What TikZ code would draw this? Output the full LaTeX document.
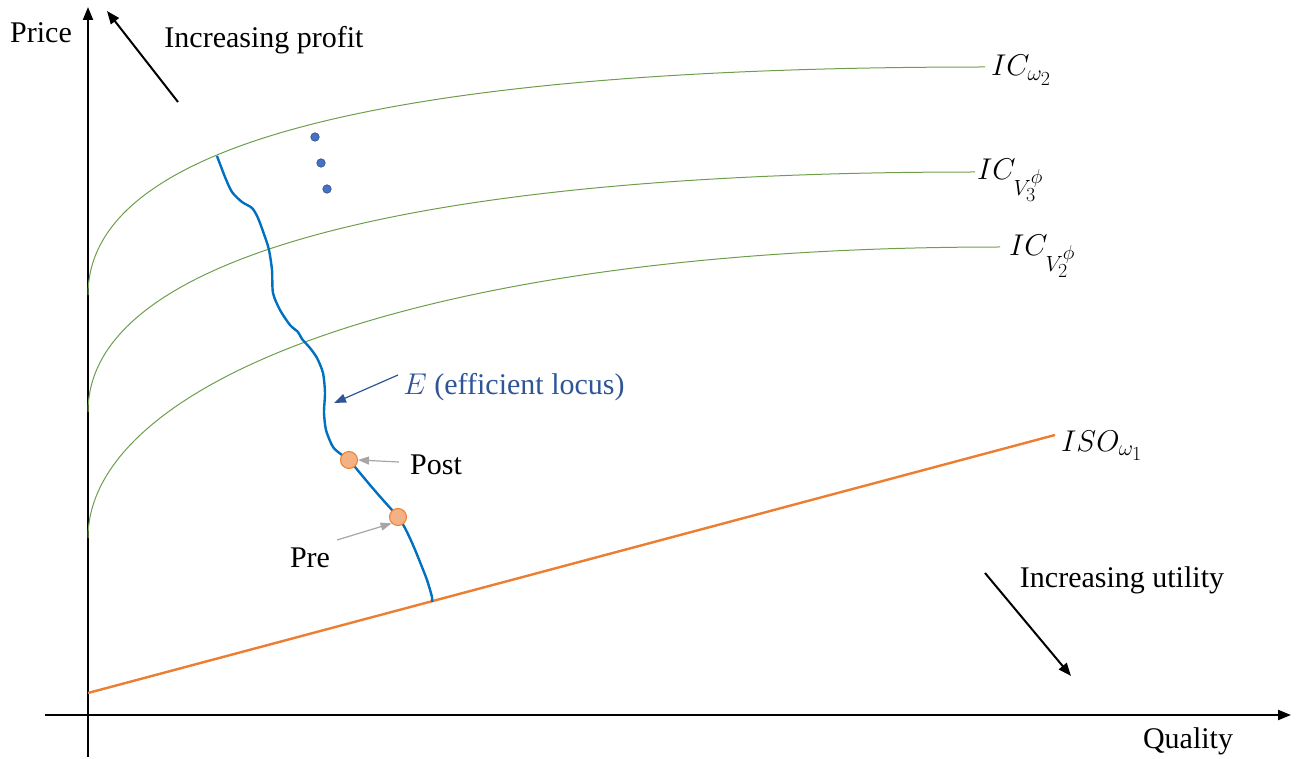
\RequirePackage{fix-cm}
\documentclass[tikz,border=0pt]{standalone}
\usepackage{fontspec}
\setmainfont{Liberation Serif}
\usetikzlibrary{arrows.meta}
\DeclareMathSizes{30}{30}{22}{20}
\definecolor{icgreen}{HTML}{6E9E4C}
\definecolor{locusblue}{HTML}{0070C0}
\definecolor{labelblue}{HTML}{2F5597}
\definecolor{isoorange}{HTML}{ED7D31}
\definecolor{dotfill}{HTML}{F4B183}
\definecolor{dotblue}{HTML}{4472C4}
\tikzset{
  axis/.style={line width=2.2pt,-{Triangle[length=13pt,width=10pt]}},
  dirarrow/.style={line width=2pt,-{Triangle[length=13pt,width=10pt]}},
  icurve/.style={icgreen,line width=1pt},
  eline/.style={locusblue,line width=2.4pt,line join=round},
  isoline/.style={isoorange,line width=2.4pt},
  txt/.style={font=\fontsize{30}{36}\selectfont,inner sep=0pt},
  mlabel/.style={font=\fontsize{30}{36}\selectfont,inner sep=0pt,anchor=base west},
  statedot/.style={circle,fill=dotfill,draw=isoorange,line width=1pt,minimum size=17pt,inner sep=0pt},
  smalldot/.style={circle,fill=dotblue,draw=dotblue!70!black,line width=0.6pt,minimum size=8.5pt,inner sep=0pt},
  grayarrow/.style={gray!70,line width=1.2pt,-{Triangle[length=11pt,width=8pt]}},
  bluearrow/.style={labelblue,line width=1.2pt,-{Triangle[length=12pt,width=9pt]}}
}
\begin{document}
\begin{tikzpicture}[x=1pt,y=-1pt]
\useasboundingbox (0,0) rectangle (1296,759);

% axes
\coordinate (ybot) at (88,757);
\coordinate (ytop) at (88,7);
\coordinate (xleft) at (45,715);
\coordinate (xright) at (1291,715);
\draw[axis] (ybot) -- (ytop);
\draw[axis] (xleft) -- (xright);
\node[txt] (price) at (41,33) {Price};
\node[txt] (quality) at (1188,741) {Quality};

% direction arrows
\node[txt] (profit) at (264,40) {Increasing profit};
\coordinate (p0) at (178,102);
\coordinate (p1) at (107,11);
\draw[dirarrow] (p0) -- (p1);
\node[txt] (utility) at (1122,580) {Increasing utility};
\coordinate (u0) at (985,573);
\coordinate (u1) at (1071,676);
\draw[dirarrow] (u0) -- (u1);

% indifference curves
\draw[icurve] (88,295) .. controls (88,140) and (400,67) .. (985,67);
\draw[icurve] (88,412) .. controls (88,257) and (410,172) .. (975,172);
\draw[icurve] (88,538) .. controls (88,383) and (420,247) .. (1000,247);
\node[mlabel] (ic2) at (991,76) {$IC_{\omega_2}$};
\node[mlabel] (ic3) at (977,180) {$IC_{V_3^{\phi}}$};
\node[mlabel] (icv2) at (1009,256) {$IC_{V_2^{\phi}}$};

% isoprofit line
\draw[isoline] (88,693) -- (1055,435);
\node[mlabel] (iso) at (1061,451) {$ISO_{\omega_1}$};

% efficient locus
\draw[eline] plot[smooth,tension=0.45] coordinates {
  (217,156) (225,177) (232,192) (242,202) (252,208) (258,218) (265,237)
  (269,250) (272,270) (273,293) (280,310) (290,325) (298,332) (302,339)
  (310,348) (317,358) (323,373) (325,393) (324,412) (326,430) (333,447)
  (342,455) (349,460) (360,473) (370,485) (383,500) (392,510) (398,517)
  (405,528) (413,545) (420,562) (427,580) (432,597) (432,602)};

% further curves indicated by dots
\node[smalldot] (d1) at (315,137) {};
\node[smalldot] (d2) at (321,163) {};
\node[smalldot] (d3) at (327,189) {};

% label of the locus
\node[txt,text=labelblue] (elabel) at (514,387) {$E$ (efficient locus)};
\coordinate (etail) at (398,375);
\coordinate (ehead) at (334,403);
\draw[bluearrow] (etail) -- (ehead);

% pre and post states
\node[statedot] (post) at (349,460) {};
\node[statedot] (pre) at (398,517) {};
\node[txt] (postl) at (436,465) {Post};
\node[txt] (prel) at (310,558) {Pre};
\coordinate (posttail) at (399,462);
\coordinate (pretail) at (337,540);
\draw[grayarrow] (posttail) -- (post.east);
\draw[grayarrow] (pretail) -- (pre.south west);
\end{tikzpicture}
\end{document}
